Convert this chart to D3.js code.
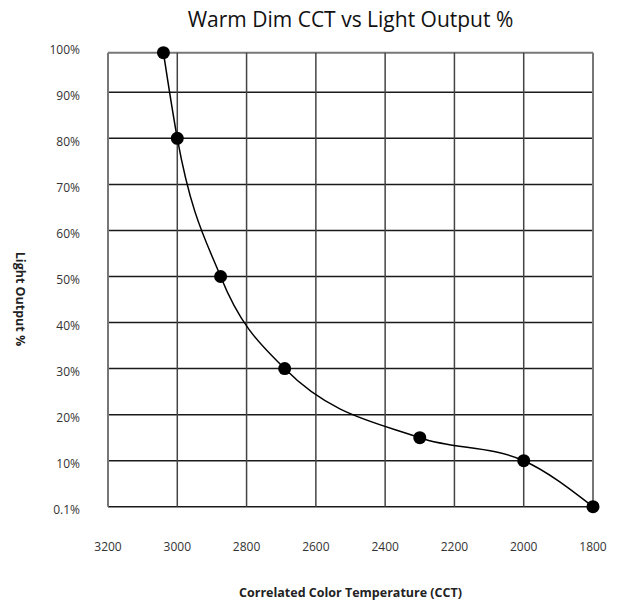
<html>
<head>
<style>
  body { margin: 0; background: #fff; }
  text { font-family: "Open Sans", sans-serif; }
</style>
</head>
<body>
  <svg id="mainSvg" width="621" height="603"></svg>

  <script src="https://d3js.org/d3.v7.min.js"></script>
  <script>
    // data
    const cct = [3040, 3000, 2875, 2690, 2300, 2000, 1800]
    const output = [100, 80, 50, 30, 15, 10, 0.1]
    const xTicks = [3200, 3000, 2800, 2600, 2400, 2200, 2000, 1800]
    const yTicks = [0.1, 10, 20, 30, 40, 50, 60, 70, 80, 90, 100]
    const yTickLabels = ['0.1%', '10%', '20%', '30%', '40%', '50%', '60%', '70%', '80%', '90%', '100%']

    const svg = d3.select('#mainSvg')
    const plotLeft = 108, plotRight = 593, plotTop = 52.7, plotBottom = 506.7

    const xScale = d3.scaleLinear().domain([3200, 1800]).range([plotLeft, plotRight])
    // the top band (90-100) is drawn shorter than the others in the original
    const yScale = d3.scaleLinear().domain([0.1, 10, 90, 100]).range([plotBottom, 460.7, 92.3, plotTop])
    // tick labels sit on an even spacing of their own
    const yLabelScale = d3.scaleLinear().domain([0, yTicks.length - 1]).range([509.5, 50])

    // horizontal grid
    svg.append('g').selectAll('line').data(yTicks).join('line')
      .attr('x1', plotLeft).attr('x2', plotRight)
      .attr('y1', d => yScale(d)).attr('y2', d => yScale(d))
      .attr('stroke', (d, i) => i === yTicks.length - 1 ? '#777' : '#1a1a1a')
      .attr('stroke-width', (d, i) => i === yTicks.length - 1 ? 2 : 1.5)

    // vertical grid
    svg.append('g').selectAll('line').data(xTicks).join('line')
      .attr('y1', plotTop).attr('y2', plotBottom)
      .attr('x1', d => xScale(d)).attr('x2', d => xScale(d))
      .attr('stroke', (d, i) => (i === 0 || i === xTicks.length - 1) ? '#777' : '#444')
      .attr('stroke-width', (d, i) => (i === 0 || i === xTicks.length - 1) ? 2 : 1.5)

    // tick labels
    svg.append('g').selectAll('text').data(yTickLabels).join('text')
      .attr('x', 80)
      .attr('y', (d, i) => yLabelScale(i))
      .attr('dy', '0.35em')
      .attr('text-anchor', 'end')
      .attr('font-size', 12)
      .attr('fill', '#333')
      .text(d => d)

    svg.append('g').selectAll('text').data(xTicks).join('text')
      .attr('x', d => xScale(d))
      .attr('y', 547)
      .attr('dy', '0.35em')
      .attr('text-anchor', 'middle')
      .attr('font-size', 12)
      .attr('fill', '#333')
      .text(d => d)

    // curve
    const pts = cct.map((c, i) => [c, output[i]])
    const line = d3.line()
      .x(d => xScale(d[0]))
      .y(d => yScale(d[1]))
      .curve(d3.curveMonotoneX)

    svg.append('path')
      .datum(pts)
      .attr('d', line)
      .attr('fill', 'none')
      .attr('stroke', '#000')
      .attr('stroke-width', 1.5)

    svg.append('g').selectAll('circle').data(pts).join('circle')
      .attr('cx', d => xScale(d[0]))
      .attr('cy', d => yScale(d[1]))
      .attr('r', 6.5)
      .attr('fill', '#000')

    // titles
    svg.append('text')
      .attr('x', (plotLeft + plotRight) / 2)
      .attr('y', 20)
      .attr('dy', '0.35em')
      .attr('text-anchor', 'middle')
      .attr('font-size', 21)
      .attr('fill', '#111')
      .text('Warm Dim CCT vs Light Output %')

    svg.append('text')
      .attr('x', (plotLeft + plotRight) / 2)
      .attr('y', 593)
      .attr('dy', '0.35em')
      .attr('text-anchor', 'middle')
      .attr('font-size', 12.5)
      .attr('font-weight', 'bold')
      .attr('fill', '#222')
      .text('Correlated Color Temperature (CCT)')

    svg.append('text')
      .attr('transform', 'translate(20, 299) rotate(90)')
      .attr('dy', '0.35em')
      .attr('text-anchor', 'middle')
      .attr('font-size', 12.5)
      .attr('font-weight', 'bold')
      .attr('fill', '#222')
      .text('Light Output %')
  </script>
</body>
</html>
